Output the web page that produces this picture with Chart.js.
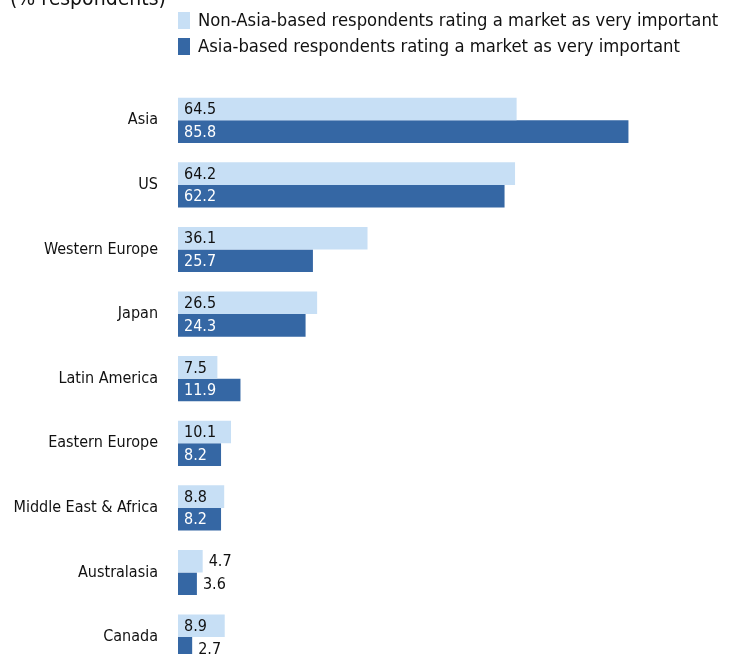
<!DOCTYPE html>
<html>
<head>
<meta charset="utf-8">
<script src="https://cdn.jsdelivr.net/npm/chart.js@4"></script>
<style>
  html, body { margin: 0; padding: 0; background: #fff; overflow: hidden; }
  canvas { display: block; }
</style>
</head>
<body>
<canvas id="marketChart" width="751" height="699"></canvas>
<script>
const FONT = "'Liberation Sans Narrow', 'DejaVu Sans Condensed', 'Roboto', sans-serif";

const markets = ['Asia', 'US', 'Western Europe', 'Japan', 'Latin America',
                 'Eastern Europe', 'Middle East & Africa', 'Australasia', 'Canada'];
const nonAsiaBased = [64.5, 64.2, 36.1, 26.5, 7.5, 10.1, 8.8, 4.7, 8.9];
const asiaBased    = [85.8, 62.2, 25.7, 24.3, 11.9, 8.2, 8.2, 3.6, 2.7];
const seriesLabels = ['Non-Asia-based respondents rating a market as very important',
                      'Asia-based respondents rating a market as very important'];
const unitNote = '(% respondents)';

const lightBlue = '#c7dff5';
const darkBlue = '#3567a4';

// value labels: inside the bar when they fit, otherwise just past its end
const valueLabels = {
  id: 'valueLabels',
  afterDatasetsDraw(chart) {
    const ctx = chart.ctx;
    ctx.save();
    ctx.font = '16px ' + FONT;
    ctx.textBaseline = 'middle';
    ctx.textAlign = 'left';
    chart.data.datasets.forEach((ds, i) => {
      chart.getDatasetMeta(i).data.forEach((bar, j) => {
        const txt = ds.data[j].toFixed(1);
        const w = ctx.measureText(txt).width;
        const len = bar.x - bar.base;
        if (w + 10 <= len) {
          ctx.fillStyle = i === 0 ? '#111' : '#fff';
          ctx.fillText(txt, bar.base + 6, bar.y + 1);
        } else {
          ctx.fillStyle = '#111';
          ctx.fillText(txt, bar.x + 6, bar.y + 1);
        }
      });
    });
    ctx.restore();
  }
};

// unit note and the stacked legend above the bars
const header = {
  id: 'header',
  afterDraw(chart) {
    const ctx = chart.ctx;
    ctx.save();
    ctx.fillStyle = '#111';
    ctx.font = '21px ' + FONT;
    ctx.textBaseline = 'alphabetic';
    ctx.fillText(unitNote, 10, 5);
    ctx.font = '18.3px ' + FONT;
    ctx.textBaseline = 'middle';
    const x = chart.chartArea.left;
    chart.data.datasets.forEach((ds, i) => {
      const y = 20 + i * 26;
      ctx.fillStyle = ds.backgroundColor;
      ctx.fillRect(x, y - 8, 12, 17);
      ctx.fillStyle = '#111';
      ctx.fillText(ds.label, x + 20, y + 1);
    });
    ctx.restore();
  }
};

new Chart(document.getElementById('marketChart'), {
  type: 'bar',
  data: {
    labels: markets,
    datasets: [
      { label: seriesLabels[0], data: nonAsiaBased, backgroundColor: lightBlue },
      { label: seriesLabels[1], data: asiaBased, backgroundColor: darkBlue }
    ]
  },
  options: {
    indexAxis: 'y',
    responsive: false,
    animation: false,
    layout: { padding: { top: 88, right: 48, bottom: 11, left: 0 } },
    datasets: { bar: { barPercentage: 1, categoryPercentage: 0.7 } },
    plugins: { legend: { display: false }, tooltip: { enabled: false } },
    scales: {
      x: { display: false, min: 0, max: 100 },
      y: {
        grid: { display: false, drawTicks: false },
        border: { display: false },
        ticks: { color: '#111', padding: 20, font: { family: FONT, size: 16 } },
        afterFit(scale) { scale.width = 178; }
      }
    }
  },
  plugins: [valueLabels, header]
});
</script>
</body>
</html>
